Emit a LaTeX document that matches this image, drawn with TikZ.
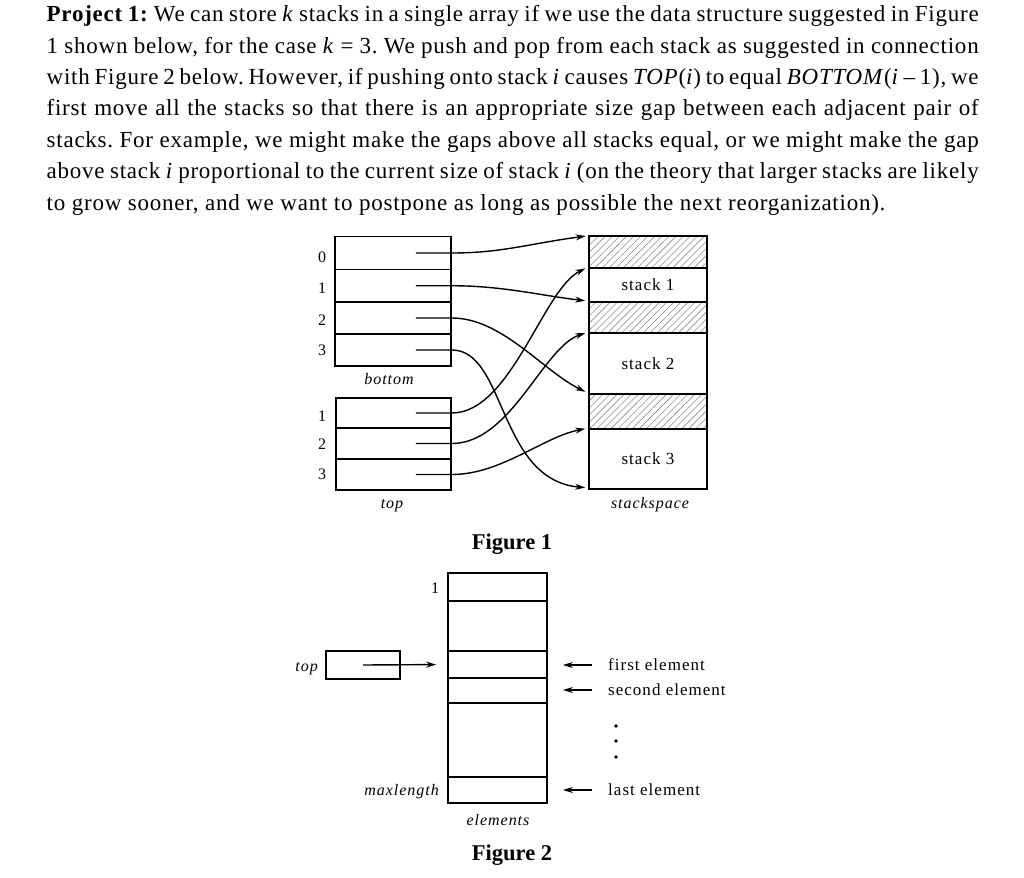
\documentclass[tikz,border=0pt]{standalone}
\usepackage{fontspec}
\setmainfont{Liberation Serif}
\newfontfamily\parafont[LetterSpace=3.3]{Liberation Serif}
\newfontfamily\lblfont[LetterSpace=6]{Liberation Serif}
\usetikzlibrary{arrows.meta,patterns.meta}
\newcommand\jline[1]{\makebox[932pt][s]{#1}}
\frenchspacing
\begin{document}
\begin{tikzpicture}[x=1pt,y=-1pt,
  para/.style={anchor=base west,inner sep=0pt,font=\parafont\fontsize{23}{26}\selectfont},
  cell/.style={draw,line width=1.8pt,inner sep=0pt,rectangle},
  hatch/.style={cell,pattern={Lines[angle=45,distance=5pt,line width=0.6pt]},pattern color=black!45},
  arr/.style={line width=1.4pt,-{Stealth[length=10pt,width=6pt]}},
  lbl/.style={inner sep=0pt,font=\lblfont\fontsize{17}{20}\selectfont},
  ilbl/.style={inner sep=0pt,font=\lblfont\itshape\fontsize{16}{20}\selectfont},
  num/.style={inner sep=0pt,font=\fontsize{16}{20}\selectfont},
  figcap/.style={anchor=base,inner sep=0pt,font=\bfseries\fontsize{22.5}{26}\selectfont},
  dot/.style={circle,fill,inner sep=0pt,minimum size=3.8pt}
]
\useasboundingbox (0,0) rectangle (1024,877);

% ---------- paragraph ----------
\node[para] (l1) at (46.5,21.7) {\jline{\textbf{Project 1:} We can store \textit{k} stacks in a single array if we use the data structure suggested in Figure}};
\node[para] (l2) at (46.5,53.1) {\jline{1 shown below, for the case \textit{k} = 3. We push and pop from each stack as suggested in connection}};
\node[para] (l3) at (46.5,84.5) {\jline{with Figure 2 below. However, if pushing onto stack \textit{i} causes \textit{TOP}(\textit{i}) to equal \textit{BOTTOM}(\textit{i} \textendash{} 1), we}};
\node[para] (l4) at (46.5,115.9) {\jline{first move all the stacks so that there is an appropriate size gap between each adjacent pair of}};
\node[para] (l5) at (46.5,147.3) {\jline{stacks. For example, we might make the gaps above all stacks equal, or we might make the gap}};
\node[para] (l6) at (46.5,178.7) {\jline{above stack \textit{i} proportional to the current size of stack \textit{i} (on the theory that larger stacks are likely}};
\node[para] (l7) at (46.5,210.1) {to grow sooner, and we want to postpone as long as possible the next reorganization).};

% ---------- Figure 1 ----------
% bottom array
\node[cell,minimum width=116pt,minimum height=33pt]   (b0) at (393,253) {};
\node[cell,minimum width=116pt,minimum height=32.5pt] (b1) at (393,285.75) {};
\node[cell,minimum width=116pt,minimum height=32pt]   (b2) at (393,318) {};
\node[cell,minimum width=116pt,minimum height=32pt]   (b3) at (393,350) {};
\node[num] (n0) at (322,257) {0};
\node[num] (n1) at (322,288) {1};
\node[num] (n2) at (322,320) {2};
\node[num] (n3) at (322,350) {3};
\node[ilbl,anchor=base] (lbot) at (389,384) {bottom};

% top array
\node[cell,minimum width=115pt,minimum height=30pt] (t1) at (393.5,413) {};
\node[cell,minimum width=115pt,minimum height=31pt] (t2) at (393.5,443.5) {};
\node[cell,minimum width=115pt,minimum height=31pt] (t3) at (393.5,474.5) {};
\node[num] (m1) at (322,416) {1};
\node[num] (m2) at (322,444) {2};
\node[num] (m3) at (322,474) {3};
\node[ilbl,anchor=base] (ltop) at (392,508) {top};

% stackspace
\node[hatch,minimum width=118pt,minimum height=32pt] (h1) at (648,252) {};
\node[hatch,minimum width=118pt,minimum height=31pt] (h2) at (648,317.5) {};
\node[hatch,minimum width=118pt,minimum height=35pt] (h3) at (648,411.5) {};
\node[cell,lbl,minimum width=118pt,minimum height=34pt] (s1) at (648,285) {stack 1};
\node[cell,lbl,minimum width=118pt,minimum height=61pt] (s2) at (648,363.5) {stack 2};
\node[cell,lbl,minimum width=118pt,minimum height=60pt] (s3) at (648,459) {stack 3};
\node[ilbl,anchor=base] (lss) at (650,508) {stackspace};

% pointers
\draw[arr,shorten >=3pt] ([xshift=-36pt]b0.east) -- (b0.east) .. controls +(50,0) and +(-60,8) .. (h1.north west);
\draw[arr,shorten >=3pt] ([xshift=-36pt]b1.east) -- (b1.east) .. controls +(50,0) and +(-50,-6) .. (h2.north west);
\draw[arr,shorten >=3pt] ([xshift=-36pt]b2.east) -- (b2.east) .. controls +(50,0) and +(-45,-22) .. (h3.north west);
\draw[arr,shorten >=3pt] ([xshift=-36pt]b3.east) -- (b3.east) .. controls +(54,0) and +(-90,-8) .. ([yshift=2pt]s3.south west);
\draw[arr,shorten >=3pt] ([xshift=-36pt]t1.east) -- (t1.east) .. controls +(59,0) and +(-45,22) .. (s1.north west);
\draw[arr,shorten >=3pt] ([xshift=-36pt]t2.east) -- (t2.east) .. controls +(59,0) and +(-45,15) .. (s2.north west);
\draw[arr,shorten >=3pt] ([xshift=-36pt]t3.east) -- (t3.east) .. controls +(49,0) and +(-45,9) .. (s3.north west);

\node[figcap] (fig1) at (512,549) {Figure 1};

% ---------- Figure 2 ----------
\node[cell,minimum width=99pt,minimum height=28pt] (e1) at (497.5,587) {};
\node[cell,minimum width=99pt,minimum height=50pt] (e2) at (497.5,626) {};
\node[cell,minimum width=99pt,minimum height=27pt] (e3) at (497.5,664.5) {};
\node[cell,minimum width=99pt,minimum height=25pt] (e4) at (497.5,690.5) {};
\node[cell,minimum width=99pt,minimum height=74pt] (e5) at (497.5,740) {};
\node[cell,minimum width=99pt,minimum height=26pt] (e6) at (497.5,790) {};
\node[num] (one) at (435,588) {1};

\node[cell,minimum width=74pt,minimum height=28pt] (tp) at (363,665) {};
\node[ilbl,anchor=base east] (ltp) at (318,671) {top};
\draw[arr,shorten >=11pt] (tp.center) -- (e3.west);

\node[lbl,anchor=west] (fe) at (608,665) {first element};
\node[lbl,anchor=west] (se) at (608,690) {second element};
\node[lbl,anchor=west] (le) at (608,790) {last element};
\draw[arr,shorten <=16pt,shorten >=15pt] (fe.west) -- (fe.west -| e3.east);
\draw[arr,shorten <=16pt,shorten >=15pt] (se.west) -- (se.west -| e4.east);
\draw[arr,shorten <=16pt,shorten >=15pt] (le.west) -- (le.west -| e6.east);
\node[dot] (d1) at (616,726) {};
\node[dot] (d2) at (616,741) {};
\node[dot] (d3) at (616,757) {};

\node[ilbl,anchor=base east] (lmax) at (439,795) {maxlength};
\node[ilbl,anchor=base] (lel) at (498,825) {elements};
\node[figcap] (fig2) at (512,860) {Figure 2};
\end{tikzpicture}
\end{document}
